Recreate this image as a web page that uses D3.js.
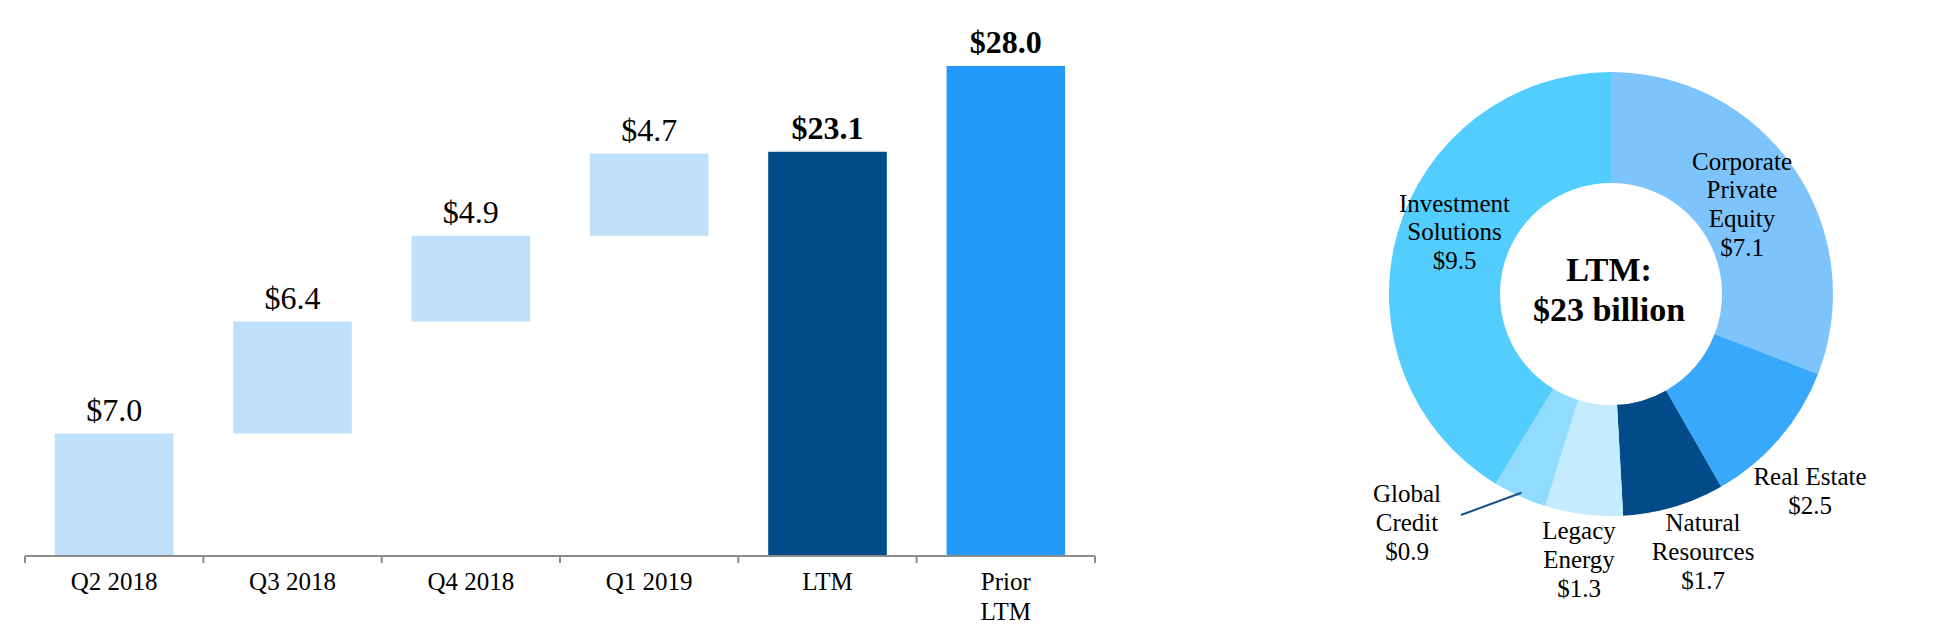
<!DOCTYPE html>
<html>
<head>
<meta charset="utf-8">
<script src="https://cdn.jsdelivr.net/npm/d3@7"></script>
<style>
html,body{margin:0;padding:0;background:#fff;}
svg{display:block;font-family:"Liberation Serif","Times New Roman",serif;}
</style>
</head>
<body>
<svg id="chart" width="1953" height="637"></svg>
<script>
// ---- Waterfall data ----
const categories = ["Q2 2018", "Q3 2018", "Q4 2018", "Q1 2019", "LTM", "Prior LTM"];
const categoryLines = [["Q2 2018"], ["Q3 2018"], ["Q4 2018"], ["Q1 2019"], ["LTM"], ["Prior", "LTM"]];
const values = [7.0, 6.4, 4.9, 4.7, 23.1, 28.0];
const barTypes = ["step", "step", "step", "step", "total", "prior"];
const valueLabels = ["$7.0", "$6.4", "$4.9", "$4.7", "$23.1", "$28.0"];

// ---- Donut data ----
const segments = ["Corporate Private Equity", "Real Estate", "Natural Resources", "Legacy Energy", "Global Credit", "Investment Solutions"];
const segmentValues = [7.1, 2.5, 1.7, 1.3, 0.9, 9.5];
const segmentLabelLines = [
  ["Corporate", "Private", "Equity", "$7.1"],
  ["Real Estate", "$2.5"],
  ["Natural", "Resources", "$1.7"],
  ["Legacy", "Energy", "$1.3"],
  ["Global", "Credit", "$0.9"],
  ["Investment", "Solutions", "$9.5"]
];
const centerLines = ["LTM:", "$23 billion"];

const svg = d3.select("#chart");

// ===== Waterfall =====
const barColors = {step: "#BEE0FB", total: "#014B88", prior: "#2399FB"};
const x = d3.scaleBand().domain(categories).range([25, 1095]).paddingInner(0.335).paddingOuter(0.1675);
const y = d3.scaleLinear().domain([0, 28]).range([556, 66]);

let cum = 0;
const bars = categories.map((c, i) => {
  let y0, y1;
  if (barTypes[i] === "step") { y0 = cum; y1 = cum + values[i]; cum = y1; }
  else { y0 = 0; y1 = values[i]; }
  return {cat: c, y0, y1, type: barTypes[i], label: valueLabels[i], lines: categoryLines[i]};
});

const gw = svg.append("g");
gw.selectAll("rect").data(bars).join("rect")
  .attr("x", d => x(d.cat))
  .attr("width", x.bandwidth())
  .attr("y", d => y(d.y1))
  .attr("height", d => y(d.y0) - y(d.y1))
  .attr("fill", d => barColors[d.type]);

gw.selectAll("text.val").data(bars).join("text")
  .attr("class", "val")
  .attr("x", d => x(d.cat) + x.bandwidth() / 2)
  .attr("y", d => y(d.y1) - 13)
  .attr("text-anchor", "middle")
  .attr("font-size", 32)
  .attr("font-weight", d => d.type === "step" ? "normal" : "bold")
  .attr("fill", "#000")
  .text(d => d.label);

// axis
const axisG = svg.append("g").attr("transform", "translate(0,556)");
axisG.append("line").attr("x1", 25).attr("x2", 1095).attr("y1", 0).attr("y2", 0)
  .attr("stroke", "#8c8c8c").attr("stroke-width", 2);
const step = x.step();
const tickXs = d3.range(categories.length + 1).map(i => 25 + i * step);
axisG.selectAll("line.tick").data(tickXs).join("line").attr("class", "tick")
  .attr("x1", d => d).attr("x2", d => d).attr("y1", 0).attr("y2", 7)
  .attr("stroke", "#8c8c8c").attr("stroke-width", 2);

const catG = svg.append("g");
bars.forEach(d => {
  const t = catG.append("text")
    .attr("x", x(d.cat) + x.bandwidth() / 2)
    .attr("y", 590)
    .attr("text-anchor", "middle")
    .attr("font-size", 25)
    .attr("fill", "#000");
  d.lines.forEach((ln, j) => {
    t.append("tspan").attr("x", x(d.cat) + x.bandwidth() / 2).attr("dy", j === 0 ? 0 : 29.5).text(ln);
  });
});

// ===== Donut =====
const cx = 1611, cy = 294, rOuter = 222, rInner = 111;
const donutColors = ["#7DC4FC", "#38A8FC", "#014B88", "#C4EBFE", "#8FDCFE", "#52CDFE"];
const pie = d3.pie().sort(null).startAngle(0).endAngle(2 * Math.PI);
const arc = d3.arc().innerRadius(rInner).outerRadius(rOuter);
const gd = svg.append("g").attr("transform", `translate(${cx},${cy})`);
gd.selectAll("path").data(pie(segmentValues)).join("path")
  .attr("d", arc)
  .attr("fill", (d, i) => donutColors[i]);

const labelPos = [
  [1742, 169.5], [1810, 485], [1703, 531], [1579, 539], [1407, 502], [1454.5, 211.5]
];
const gl = svg.append("g");
segmentLabelLines.forEach((lines, i) => {
  const t = gl.append("text")
    .attr("x", labelPos[i][0]).attr("y", labelPos[i][1])
    .attr("text-anchor", "middle")
    .attr("font-size", 25)
    .attr("fill", "#000");
  lines.forEach((ln, j) => {
    t.append("tspan").attr("x", labelPos[i][0]).attr("dy", j === 0 ? 0 : 28.8).text(ln);
  });
});

// leader line for Global Credit
const gcArc = pie(segmentValues)[4];
const midA = (gcArc.startAngle + gcArc.endAngle) / 2;
const rr = rOuter - 4;
svg.append("line")
  .attr("x1", 1461).attr("y1", 515)
  .attr("x2", cx + rr * Math.sin(midA)).attr("y2", cy - rr * Math.cos(midA))
  .attr("stroke", "#1a4f86").attr("stroke-width", 2);

// center text
const ct = svg.append("text").attr("x", 1609).attr("y", 281)
  .attr("text-anchor", "middle").attr("font-size", 34).attr("font-weight", "bold").attr("fill", "#000");
centerLines.forEach((ln, j) => {
  ct.append("tspan").attr("x", 1609).attr("dy", j === 0 ? 0 : 40).text(ln);
});
</script>
</body>
</html>
